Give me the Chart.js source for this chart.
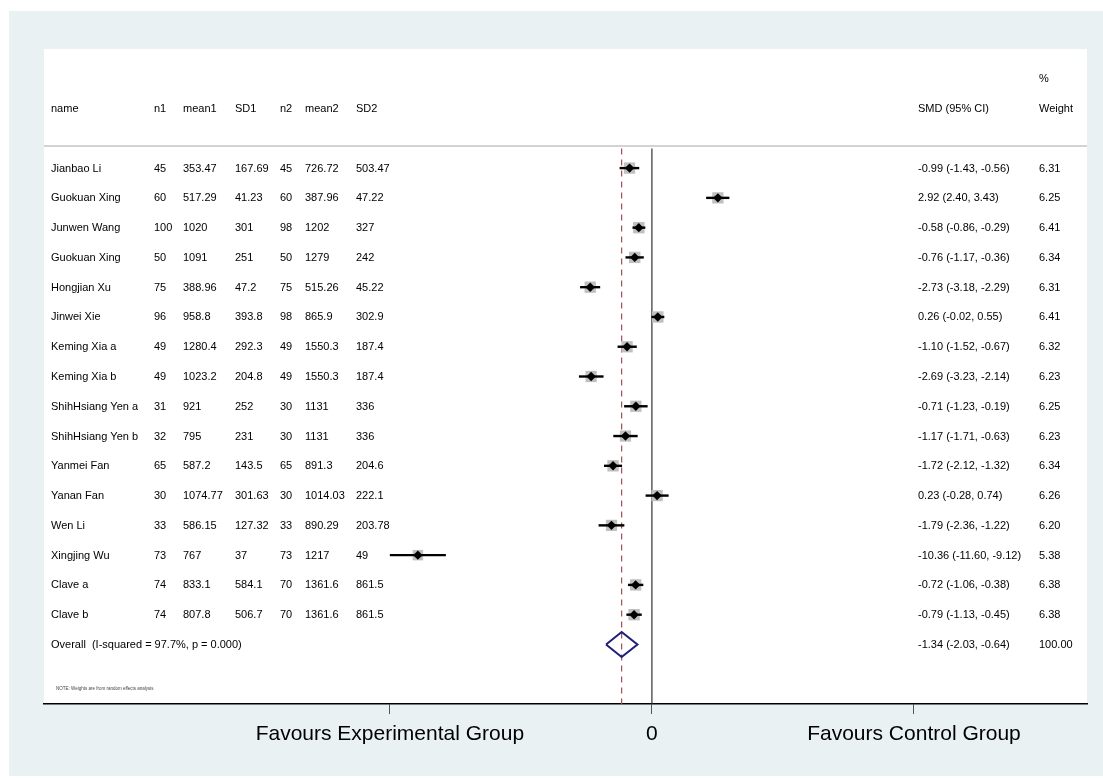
<!DOCTYPE html>
<html>
<head>
<meta charset="utf-8">
<script src="https://cdn.jsdelivr.net/npm/chart.js@4"></script>
<style>
  html, body { margin: 0; padding: 0; background: #ffffff; }
  #wrap { width: 1103px; height: 778px; position: relative; }
</style>
</head>
<body>
<div id="wrap"><canvas id="c" width="1103" height="778"></canvas></div>
<script>
// ---- data ----
const names = ["Jianbao Li","Guokuan Xing","Junwen Wang","Guokuan Xing","Hongjian Xu","Jinwei Xie","Keming Xia a","Keming Xia b","ShihHsiang Yen a","ShihHsiang Yen b","Yanmei Fan","Yanan Fan","Wen Li","Xingjing Wu","Clave a","Clave b"];
const n1    = [45,60,100,50,75,96,49,49,31,32,65,30,33,73,74,74];
const mean1 = [353.47,517.29,1020,1091,388.96,958.8,1280.4,1023.2,921,795,587.2,1074.77,586.15,767,833.1,807.8];
const sd1   = [167.69,41.23,301,251,47.2,393.8,292.3,204.8,252,231,143.5,301.63,127.32,37,584.1,506.7];
const n2    = [45,60,98,50,75,98,49,49,30,30,65,30,33,73,70,70];
const mean2 = [726.72,387.96,1202,1279,515.26,865.9,1550.3,1550.3,1131,1131,891.3,1014.03,890.29,1217,1361.6,1361.6];
const sd2   = [503.47,47.22,327,242,45.22,302.9,187.4,187.4,336,336,204.6,222.1,203.78,49,861.5,861.5];
const smd   = [-0.99,2.92,-0.58,-0.76,-2.73,0.26,-1.10,-2.69,-0.71,-1.17,-1.72,0.23,-1.79,-10.36,-0.72,-0.79];
const ciLo  = [-1.43,2.40,-0.86,-1.17,-3.18,-0.02,-1.52,-3.23,-1.23,-1.71,-2.12,-0.28,-2.36,-11.60,-1.06,-1.13];
const ciHi  = [-0.56,3.43,-0.29,-0.36,-2.29,0.55,-0.67,-2.14,-0.19,-0.63,-1.32,0.74,-1.22,-9.12,-0.38,-0.45];
const weight= [6.31,6.25,6.41,6.34,6.31,6.41,6.32,6.23,6.25,6.23,6.34,6.26,6.20,5.38,6.38,6.38];
const overall = { label: "Overall  (I-squared = 97.7%, p = 0.000)", est: -1.34, lo: -2.03, hi: -0.64, weight: 100.00 };
const headers = ["name","n1","mean1","SD1","n2","mean2","SD2"];
const xTicks = [-11.6, 0, 11.6];
const xTickLabels = ["Favours Experimental Group", "0", "Favours Control Group"];
const noteText = "NOTE: Weights are from random effects analysis";

// ---- datasets ----
const rows = names.map((_, i) => i);
const overallRow = names.length;
const datasets = [];

// weight boxes
datasets.push({
  type: 'scatter', order: 5,
  data: rows.map(i => ({ x: smd[i], y: i })),
  pointStyle: 'rect',
  pointRadius: rows.map(i => 8.0 * Math.sqrt(weight[i] / 6.3)),
  pointBackgroundColor: '#c0c0c0', pointBorderWidth: 0, pointBorderColor: 'rgba(0,0,0,0)'
});
// CI lines
rows.forEach(i => {
  datasets.push({
    type: 'line', order: 3,
    data: [{ x: ciLo[i], y: i }, { x: ciHi[i], y: i }],
    borderColor: '#000000', borderWidth: 2.4, pointRadius: 0, fill: false
  });
});
// point estimates
datasets.push({
  type: 'scatter', order: 1,
  data: rows.map(i => ({ x: smd[i], y: i })),
  pointStyle: 'rectRot', pointRadius: 4.7,
  pointBackgroundColor: '#000000', pointBorderWidth: 0
});
// null line
datasets.push({
  type: 'line', order: 6,
  data: [{ x: 0, y: -0.66 }, { x: 0, y: 18 }],
  borderColor: '#333333', borderWidth: 1.2, pointRadius: 0, fill: false
});
// overall effect dashed line
datasets.push({
  type: 'line', order: 6,
  data: [{ x: overall.est, y: -0.66 }, { x: overall.est, y: 18 }],
  borderColor: '#9e5058', borderWidth: 1.2, borderDash: [6, 5], pointRadius: 0, fill: false
});
// overall diamond
datasets.push({
  type: 'line', order: 0,
  data: [
    { x: overall.lo, y: overallRow },
    { x: overall.est, y: overallRow - 0.42 },
    { x: overall.hi, y: overallRow },
    { x: overall.est, y: overallRow + 0.42 },
    { x: overall.lo, y: overallRow }
  ],
  borderColor: '#1f1f78', borderWidth: 2, pointRadius: 0, fill: false, tension: 0
});

// ---- plugins ----
const bgPlugin = {
  id: 'bg',
  beforeDraw(chart) {
    const { ctx, chartArea: a } = chart;
    ctx.save();
    ctx.fillStyle = '#ffffff';
    ctx.fillRect(0, 0, chart.width, chart.height);
    ctx.fillStyle = '#e9f1f3';
    ctx.fillRect(9, 11, chart.width - 9, chart.height - 13);
    ctx.fillStyle = '#ffffff';
    ctx.fillRect(a.left, a.top, a.right - a.left, a.bottom - a.top);
    ctx.restore();
  }
};

const colX = [7, 110, 139, 191, 236, 261, 312]; // offsets from chart area left
const ciColOffset = 874, wColOffset = 995;

const textPlugin = {
  id: 'tableText',
  afterDatasetsDraw(chart) {
    const { ctx, chartArea: a, scales } = chart;
    const y = scales.y;
    ctx.save();
    // header separator
    ctx.strokeStyle = '#d3d3d3';
    ctx.lineWidth = 2;
    const sepY = y.getPixelForValue(-0.74);
    ctx.beginPath(); ctx.moveTo(a.left, sepY); ctx.lineTo(a.right, sepY); ctx.stroke();

    ctx.fillStyle = '#000000';
    ctx.font = '11px "Liberation Sans", Arial, sans-serif';
    ctx.textBaseline = 'middle';
    ctx.textAlign = 'left';
    const hy = y.getPixelForValue(-2);
    headers.forEach((h, k) => ctx.fillText(h, a.left + colX[k], hy));
    ctx.fillText('SMD (95% CI)', a.left + ciColOffset, hy);
    ctx.fillText('Weight', a.left + wColOffset, hy);
    ctx.fillText('%', a.left + wColOffset, y.getPixelForValue(-3));

    rows.forEach(i => {
      const py = y.getPixelForValue(i) + 0.5;
      const vals = [names[i], n1[i], mean1[i], sd1[i], n2[i], mean2[i], sd2[i]];
      vals.forEach((v, k) => ctx.fillText(String(v), a.left + colX[k], py));
      ctx.fillText(smd[i].toFixed(2) + ' (' + ciLo[i].toFixed(2) + ', ' + ciHi[i].toFixed(2) + ')', a.left + ciColOffset, py);
      ctx.fillText(weight[i].toFixed(2), a.left + wColOffset, py);
    });
    const oy = y.getPixelForValue(overallRow) + 0.5;
    ctx.fillText(overall.label, a.left + colX[0], oy);
    ctx.fillText(overall.est.toFixed(2) + ' (' + overall.lo.toFixed(2) + ', ' + overall.hi.toFixed(2) + ')', a.left + ciColOffset, oy);
    ctx.fillText(overall.weight.toFixed(2), a.left + wColOffset, oy);

    ctx.font = '4.5px "Liberation Sans", Arial, sans-serif';
    ctx.fillStyle = '#444444';
    ctx.fillText(noteText, a.left + 12, y.getPixelForValue(17.5));
    ctx.restore();
  }
};

new Chart(document.getElementById('c'), {
  type: 'scatter',
  data: { datasets },
  options: {
    responsive: false,
    animation: false,
    devicePixelRatio: 1,
    layout: { padding: { left: 44, top: 49, right: 16, bottom: 4 } },
    plugins: { legend: { display: false }, tooltip: { enabled: false } },
    scales: {
      x: {
        type: 'linear',
        min: -26.91, max: 19.26,
        afterBuildTicks(scale) { scale.ticks = xTicks.map(v => ({ value: v })); },
        afterFit(scale) { scale.height = 70; },
        ticks: {
          autoSkip: false, maxRotation: 0, padding: 8,
          color: '#000000',
          font: { family: '"Liberation Sans", Arial, sans-serif', size: 21 },
          callback(v) { const k = xTicks.indexOf(v); return k >= 0 ? xTickLabels[k] : ''; }
        },
        grid: { display: true, drawOnChartArea: false, drawTicks: true, tickLength: 10, color: '#555555', lineWidth: 1 },
        border: { display: true, color: '#000000', width: 1.5 }
      },
      y: {
        type: 'linear', display: false, reverse: true,
        min: -4, max: 18
      }
    }
  },
  plugins: [bgPlugin, textPlugin]
});
</script>
</body>
</html>
